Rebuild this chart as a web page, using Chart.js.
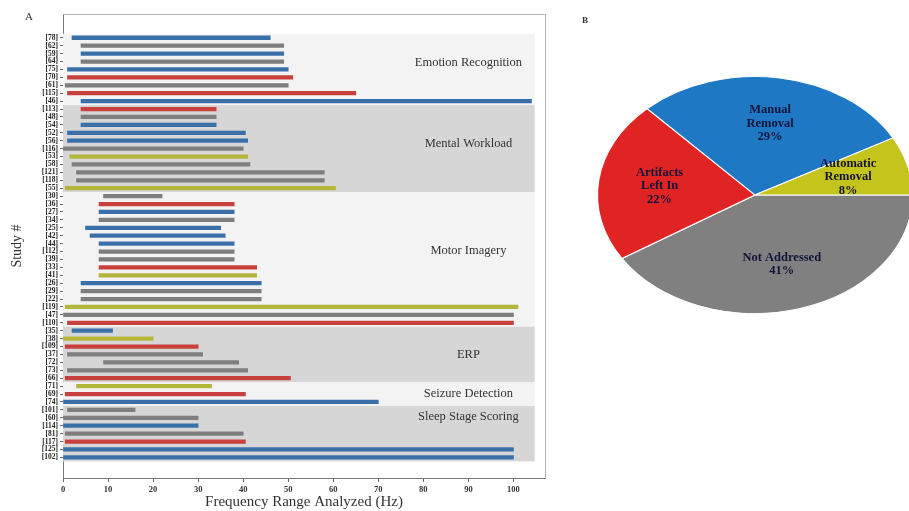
<!DOCTYPE html>
<html>
<head>
<meta charset="utf-8">
<script src="https://cdn.jsdelivr.net/npm/chart.js@4.4.0/dist/chart.umd.min.js"></script>
<style>
  html, body { margin: 0; padding: 0; background: #fff; }
  body { width: 909px; height: 511px; position: relative; overflow: hidden; }
  canvas { position: absolute; top: 0; }
  #rangeChart { left: 0; }
  #pieChart { left: 575px; }
  .panel { position: absolute; font-family: "Liberation Serif", serif; color: #333; }
</style>
</head>
<body>
<canvas id="rangeChart" width="560" height="511"></canvas>
<canvas id="pieChart" width="334" height="511"></canvas>
<div class="panel" style="left:25px;top:10px;font-size:11px;">A</div>
<div class="panel" style="left:582px;top:15px;font-size:9px;font-weight:bold;">B</div>
<script>
// Panel A: one row per study, top to bottom
const studies = [
  "[78]", "[62]", "[59]", "[64]", "[75]", "[70]", "[61]", "[115]", "[46]",
  "[113]", "[48]", "[54]", "[52]", "[56]", "[116]", "[53]", "[58]", "[121]", "[118]", "[55]",
  "[30]", "[36]", "[27]", "[34]", "[25]", "[42]", "[44]", "[112]", "[39]", "[33]", "[41]", "[26]", "[29]", "[22]", "[119]", "[47]", "[110]",
  "[35]", "[38]", "[109]", "[37]", "[72]", "[73]", "[66]",
  "[71]", "[69]", "[74]",
  "[101]", "[60]", "[114]", "[81]", "[117]", "[125]", "[102]"
];
const freqLow = [
  2, 4, 4, 4, 1, 1, 0.5, 1, 4,
  4, 4, 4, 1, 1, 0, 1.5, 2, 3, 3, 0.5,
  9, 8, 8, 8, 5, 6, 8, 8, 8, 8, 8, 4, 4, 4, 0.5, 0, 1,
  2, 0, 0.5, 1, 9, 1, 0.5,
  3, 0.5, 0,
  1, 0, 0, 0.5, 0.5, 0, 0
];
const freqHigh = [
  46, 49, 49, 49, 50, 51, 50, 65, 104,
  34, 34, 34, 40.5, 41, 40, 41, 41.5, 58, 58, 60.5,
  22, 38, 38, 38, 35, 36, 38, 38, 38, 43, 43, 44, 44, 44, 101, 100, 100,
  11, 20, 30, 31, 39, 41, 50.5,
  33, 40.5, 70,
  16, 30, 30, 40, 40.5, 100, 100
];
// artifact handling per study: M manual removal, L left in, N not addressed, A automatic removal
const handling = [
  "M", "N", "M", "N", "M", "L", "N", "L", "M",
  "L", "N", "M", "M", "M", "N", "A", "N", "N", "N", "A",
  "N", "L", "M", "N", "M", "M", "M", "N", "N", "L", "A", "M", "N", "N", "A", "N", "L",
  "M", "A", "L", "N", "N", "N", "L",
  "A", "L", "M",
  "N", "N", "M", "N", "L", "M", "M"
];
const applications = ["Emotion Recognition", "Mental Workload", "Motor Imagery", "ERP", "Seizure Detection", "Sleep Stage Scoring"];
const appCounts = [9, 11, 17, 7, 3, 7];
const xTicks = [0, 10, 20, 30, 40, 50, 60, 70, 80, 90, 100];

// Panel B
const pieLabels = ["Not Addressed", "Artifacts\nLeft In", "Manual\nRemoval", "Automatic\nRemoval"];
const pieValues = [41, 22, 29, 8];

const serif = "'Liberation Serif', 'Times New Roman', serif";
const handlingColours = { M: "#3a70a8", L: "#c8403d", N: "#7e7e7e", A: "#b3b63a" };
const pieColours = ["#808080", "#e02424", "#1f78c4", "#c4c41c"];

// shaded application bands with their names
const bandPlugin = {
  id: "bands",
  beforeDatasetsDraw(chart) {
    const { ctx, scales: { x, y } } = chart;
    const labelShift = [-0.8, -0.6, -1.1, 0, 0, -2.1];
    const left = x.getPixelForValue(0);
    const right = x.getPixelForValue(104.7);
    let start = 0;
    ctx.save();
    applications.forEach((name, k) => {
      const end = start + appCounts[k];
      const top = y.getPixelForValue(start - 0.5);
      const bottom = y.getPixelForValue(end - 0.5);
      ctx.fillStyle = k % 2 ? "#d6d6d6" : "#f3f3f3";
      ctx.fillRect(left, top, right - left, bottom - top);
      ctx.fillStyle = "#333";
      ctx.font = "12.5px " + serif;
      ctx.textAlign = "center";
      ctx.textBaseline = "middle";
      const mid = (start + end - 1) / 2 + labelShift[k];
      ctx.fillText(name, x.getPixelForValue(90), y.getPixelForValue(mid));
      start = end;
    });
    ctx.restore();
  },
  afterDraw(chart) {
    const { ctx, chartArea: a } = chart;
    ctx.save();
    ctx.strokeStyle = "#b5b5b5";
    ctx.lineWidth = 1;
    ctx.beginPath();
    ctx.moveTo(a.left, a.top + 0.5);
    ctx.lineTo(a.right + 0.5, a.top + 0.5);
    ctx.lineTo(a.right + 0.5, a.bottom);
    ctx.stroke();
    ctx.restore();
  }
};

new Chart(document.getElementById("rangeChart"), {
  type: "bar",
  data: {
    datasets: [{
      data: studies.map((s, i) => ({ x: [freqLow[i], freqHigh[i]], y: i })),
      backgroundColor: handling.map(h => handlingColours[h]),
      borderWidth: 0,
      barThickness: 3.6
    }]
  },
  options: {
    indexAxis: "y",
    responsive: false,
    animation: false,
    layout: { padding: { top: 14, right: 15, left: 0, bottom: 0 } },
    plugins: { legend: { display: false }, tooltip: { enabled: false } },
    scales: {
      x: {
        type: "linear",
        min: 0,
        max: 107,
        afterFit: s => { s.height = 33; },
        afterBuildTicks: s => { s.ticks = xTicks.map(v => ({ value: v })); },
        ticks: { color: "#333", padding: 3, font: { family: serif, size: 8.5, weight: "bold" } },
        grid: { drawOnChartArea: false, tickLength: 4, color: "#666" },
        border: { color: "#777" },
        title: {
          display: true,
          text: "Frequency Range Analyzed (Hz)",
          color: "#333",
          font: { family: serif, size: 15 },
          padding: { top: 0, bottom: 0 }
        }
      },
      y: {
        type: "linear",
        reverse: true,
        offset: false,
        min: -3,
        max: 55.6,
        afterFit: s => { s.width = 63; },
        ticks: {
          stepSize: 1,
          autoSkip: false,
          padding: 2,
          color: "#222",
          font: { family: serif, size: 7.5, weight: "bold" },
          callback: v => studies[Math.round(v)] || ""
        },
        grid: {
          offset: false,
          drawOnChartArea: false,
          tickLength: 3,
          color: c => (c.tick && studies[Math.round(c.tick.value)] ? "#666" : "rgba(0,0,0,0)")
        },
        border: { color: "#777" },
        title: {
          display: true,
          text: "Study #",
          color: "#333",
          font: { family: serif, size: 14 },
          padding: { top: 9, bottom: 0 }
        }
      }
    }
  },
  plugins: [bandPlugin]
});

// stretch the pie into an ellipse and write the labels on top
const stretch = 1.33;
const ellipsePlugin = {
  id: "ellipse",
  beforeDatasetsDraw(chart) {
    const arc = chart.getDatasetMeta(0).data[0];
    const ctx = chart.ctx;
    ctx.save();
    ctx.translate(arc.x, arc.y);
    ctx.scale(stretch, 1);
    ctx.translate(-arc.x, -arc.y);
  },
  afterDatasetsDraw(chart) {
    const ctx = chart.ctx;
    ctx.restore();
    ctx.save();
    ctx.fillStyle = "#14143a";
    ctx.font = "bold 12.5px " + serif;
    ctx.textAlign = "center";
    ctx.textBaseline = "middle";
    chart.getDatasetMeta(0).data.forEach((arc, i) => {
      const mid = (arc.startAngle + arc.endAngle) / 2;
      const r = arc.outerRadius * 0.61;
      const cx = arc.x + Math.cos(mid) * r * stretch;
      const cy = arc.y + Math.sin(mid) * r;
      const lines = pieLabels[i].split("\n").concat(pieValues[i] + "%");
      lines.forEach((line, j) => {
        ctx.fillText(line, cx, cy + (j - (lines.length - 1) / 2) * 13.5);
      });
    });
    ctx.restore();
  }
};

new Chart(document.getElementById("pieChart"), {
  type: "pie",
  data: {
    labels: pieLabels,
    datasets: [{
      data: pieValues,
      backgroundColor: pieColours,
      borderColor: "#ffffff",
      borderWidth: 1,
      hoverOffset: 0
    }]
  },
  options: {
    responsive: false,
    animation: false,
    rotation: 90,
    layout: { padding: { left: 61, right: 35, top: 76, bottom: 197 } },
    plugins: { legend: { display: false }, tooltip: { enabled: false } }
  },
  plugins: [ellipsePlugin]
});
</script>
</body>
</html>
